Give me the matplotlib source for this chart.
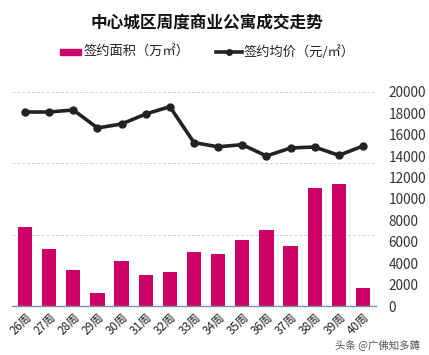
import matplotlib
matplotlib.use("Agg")
import matplotlib.pyplot as plt
import numpy as np

plt.rcParams['font.family'] = ['Noto Sans CJK SC', 'DejaVu Sans']

weeks = ["26周", "27周", "28周", "29周", "30周", "31周", "32周", "33周",
         "34周", "35周", "36周", "37周", "38周", "39周", "40周"]
area = [0.556, 0.400, 0.252, 0.093, 0.315, 0.217, 0.238, 0.379,
        0.365, 0.463, 0.533, 0.421, 0.827, 0.855, 0.126]
price = [18130, 18130, 18320, 16640, 17010, 17940, 18630, 15270,
         14880, 15080, 14020, 14770, 14860, 14080, 14950]

bar_color = "#CC0066"
line_color = "#222222"

fig = plt.figure(figsize=(4.29, 3.55), dpi=100)
ax = fig.add_axes([12/429, 49/355, (376-12)/429, (306-92)/355])
ax2 = ax.twinx()

x = np.arange(len(weeks))
ax.bar(x, area, width=0.59, color=bar_color, zorder=2)
ax.set_ylim(0, 1.5)
ax.set_yticks([0, 0.5, 1.0, 1.5])
ax.tick_params(axis='y', left=False, labelleft=False)
ax.grid(axis='y', color='#d0d0d0', linestyle=(0, (3, 2)), linewidth=0.7, zorder=0)
ax.set_axisbelow(True)
ax.set_xlim(-0.54, len(weeks) - 0.46)
ax.set_xticks(x)
ax.set_xticklabels(weeks, rotation=45, ha='right', va='top', rotation_mode='anchor',
                   fontsize=8.5, color='#222222')
ax.tick_params(axis='x', length=0, pad=3)
for s in ['top', 'left', 'right']:
    ax.spines[s].set_visible(False)
ax.spines['bottom'].set_color('#7f8fa6')
ax.spines['bottom'].set_linewidth(1.0)

ax2.plot(x, price, color=line_color, linewidth=2.6, marker='o', markersize=5, zorder=3)
ax2.set_ylim(0, 20000)
ax2.set_yticks(np.arange(0, 20001, 2000))
ax2.tick_params(axis='y', length=0, labelsize=9.8, labelcolor='#333333', pad=9)
for s in ['top', 'left', 'right', 'bottom']:
    ax2.spines[s].set_visible(False)

fig.text(207/429, 1 - 23/355, "中心城区周度商业公寓成交走势", ha='center', va='center',
         fontsize=12, fontweight='bold', color='#111111')

# legend
from matplotlib.patches import Rectangle
from matplotlib.lines import Line2D
fig.patches.append(Rectangle((60/429, 1 - 55/355), 21/429, 6/355, transform=fig.transFigure,
                             color=bar_color, figure=fig))
fig.text(83/429, 1 - 52/355, "签约面积（万㎡）", ha='left', va='center', fontsize=9.5, color='#222222')
fig.lines.append(Line2D([216/429, 242/429], [1 - 52/355, 1 - 52/355], transform=fig.transFigure,
                        color=line_color, linewidth=2.6, figure=fig))
fig.lines.append(Line2D([229/429], [1 - 52/355], transform=fig.transFigure, color=line_color,
                        marker='o', markersize=4, linestyle='none', figure=fig))
fig.text(243/429, 1 - 52/355, "签约均价（元/㎡）", ha='left', va='center', fontsize=9.5, color='#222222')

fig.text(420/429, 1 - 345/355, "头条 @广佛知多薅", ha='right', va='center', fontsize=7.5,
         color='#555555')

fig.savefig("out.png", dpi=100)
